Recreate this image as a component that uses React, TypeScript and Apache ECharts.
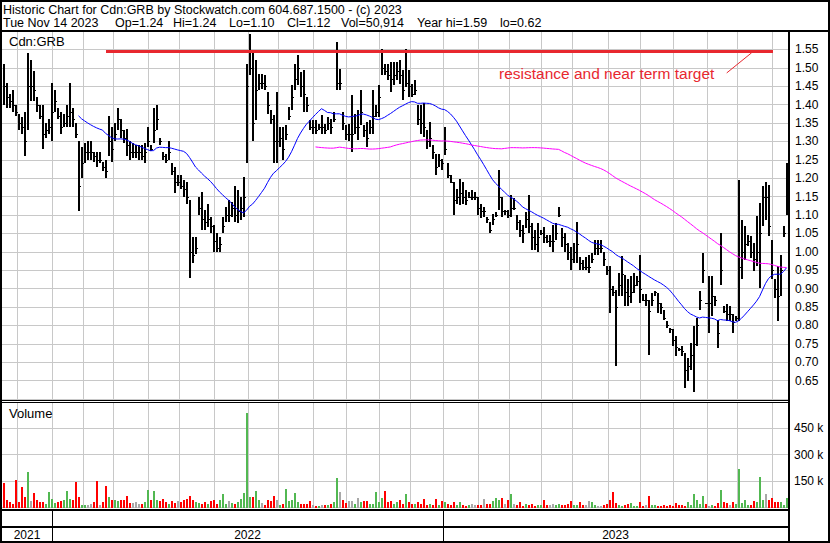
import React, { useEffect, useRef } from "react";
import * as echarts from "echarts";

// ---- data (each bar = ~2 trading days, Nov 2021 .. Nov 14 2023) ----
const highs = [
  1.51, 1.46, 1.43, 1.44, 1.40, 1.375, 1.365, 1.38, 1.54, 1.52,
  1.49, 1.42, 1.40, 1.40, 1.35, 1.36, 1.46, 1.44, 1.39, 1.38,
  1.375, 1.40, 1.46, 1.39, 1.35, 1.30, 1.285, 1.295, 1.30, 1.30,
  1.27, 1.27, 1.27, 1.245, 1.25, 1.37, 1.34, 1.35, 1.39, 1.36,
  1.33, 1.335, 1.30, 1.295, 1.29, 1.29, 1.29, 1.295, 1.34, 1.29,
  1.39, 1.40, 1.31, 1.27, 1.267, 1.30, 1.24, 1.23, 1.21, 1.21,
  1.195, 1.19, 1.14, 1.04, 1.04, 1.15, 1.163, 1.113, 1.13, 1.095,
  1.073, 1.05, 1.041, 1.095, 1.122, 1.14, 1.136, 1.18, 1.168, 1.15,
  1.204, 1.511, 1.592, 1.547, 1.52, 1.484, 1.484, 1.48, 1.434, 1.385,
  1.371, 1.434, 1.34, 1.34, 1.344, 1.393, 1.452, 1.511, 1.534, 1.488,
  1.493, 1.421, 1.357, 1.357, 1.357, 1.348, 1.371, 1.348, 1.366, 1.362,
  1.38, 1.57, 1.498, 1.38, 1.344, 1.348, 1.425, 1.375, 1.384, 1.439,
  1.344, 1.353, 1.357, 1.439, 1.398, 1.452, 1.552, 1.511, 1.511, 1.516,
  1.516, 1.516, 1.52, 1.493, 1.552, 1.493, 1.457, 1.466, 1.398, 1.398,
  1.403, 1.33, 1.353, 1.289, 1.267, 1.267, 1.253, 1.339, 1.24, 1.208,
  1.19, 1.172, 1.199, 1.19, 1.168, 1.163, 1.168, 1.163, 1.15, 1.131,
  1.122, 1.095, 1.082, 1.104, 1.109, 1.222, 1.15, 1.113, 1.113, 1.154,
  1.145, 1.10, 1.086, 1.073, 1.109, 1.154, 1.077, 1.059, 1.077, 1.059,
  1.068, 1.045, 1.045, 1.073, 1.077, 1.122, 1.064, 1.05, 1.023, 1.014,
  1.023, 1.082, 0.987, 0.978, 0.987, 0.991, 0.997, 1.033, 1.033, 1.033,
  1.00, 0.961, 0.961, 0.906, 0.897, 0.943, 0.988, 0.938, 0.925, 0.934,
  0.943, 0.934, 0.992, 0.884, 0.884, 0.87, 0.888, 0.893, 0.888, 0.861,
  0.843, 0.812, 0.793, 0.789, 0.771, 0.739, 0.744, 0.726, 0.712, 0.753,
  0.798, 0.82, 0.893, 0.997, 0.861, 0.934, 0.934, 0.879, 0.816, 1.051,
  0.852, 0.857, 0.852, 0.83, 0.825, 1.196, 1.087, 1.069, 1.047, 1.042,
  1.024, 1.096, 1.132, 1.178, 1.191, 1.182, 1.033, 0.925, 0.961, 0.99,
  1.07, 1.24,
];
const lows = [
  1.40, 1.39, 1.39, 1.38, 1.37, 1.33, 1.32, 1.26, 1.33, 1.41,
  1.41, 1.38, 1.36, 1.28, 1.31, 1.32, 1.30, 1.38, 1.36, 1.32,
  1.34, 1.34, 1.34, 1.34, 1.31, 1.11, 1.20, 1.24, 1.25, 1.25,
  1.245, 1.23, 1.24, 1.22, 1.20, 1.26, 1.245, 1.30, 1.33, 1.31,
  1.295, 1.26, 1.25, 1.255, 1.255, 1.25, 1.25, 1.24, 1.285, 1.275,
  1.295, 1.33, 1.29, 1.25, 1.24, 1.25, 1.21, 1.16, 1.18, 1.17,
  1.15, 1.13, 0.93, 0.97, 0.995, 1.10, 1.059, 1.059, 1.068, 1.05,
  1.00, 1.00, 1.00, 1.05, 1.082, 1.082, 1.095, 1.082, 1.077, 1.086,
  1.095, 1.24, 1.48, 1.30, 1.357, 1.439, 1.443, 1.439, 1.375, 1.348,
  1.24, 1.24, 1.285, 1.25, 1.303, 1.357, 1.384, 1.439, 1.452, 1.42,
  1.38, 1.38, 1.33, 1.32, 1.32, 1.33, 1.32, 1.32, 1.33, 1.32,
  1.353, 1.439, 1.439, 1.33, 1.303, 1.30, 1.27, 1.32, 1.303, 1.344,
  1.312, 1.285, 1.32, 1.32, 1.366, 1.366, 1.48, 1.48, 1.466, 1.434,
  1.452, 1.466, 1.457, 1.412, 1.448, 1.421, 1.421, 1.425, 1.344, 1.321,
  1.312, 1.28, 1.285, 1.253, 1.208, 1.231, 1.222, 1.262, 1.20, 1.186,
  1.10, 1.131, 1.127, 1.131, 1.127, 1.145, 1.14, 1.14, 1.10, 1.091,
  1.095, 1.077, 1.05, 1.073, 1.095, 1.113, 1.095, 1.10, 1.091, 1.095,
  1.113, 1.059, 1.041, 1.023, 1.064, 1.05, 1.005, 1.005, 1.00, 1.045,
  1.023, 1.023, 1.014, 1.00, 1.032, 1.095, 1.014, 1.00, 0.978, 0.951,
  0.969, 0.969, 0.951, 0.951, 0.951, 0.942, 0.97, 0.992, 0.992, 0.997,
  0.961, 0.938, 0.834, 0.879, 0.69, 0.879, 0.879, 0.852, 0.852, 0.861,
  0.888, 0.906, 0.861, 0.866, 0.852, 0.72, 0.852, 0.879, 0.834, 0.83,
  0.816, 0.793, 0.78, 0.744, 0.717, 0.73, 0.717, 0.631, 0.649, 0.68,
  0.62, 0.744, 0.843, 0.915, 0.857, 0.78, 0.825, 0.852, 0.739, 0.911,
  0.834, 0.812, 0.812, 0.78, 0.812, 0.812, 0.925, 0.979, 1.015, 0.983,
  0.947, 0.961, 0.902, 1.069, 1.087, 1.042, 0.925, 0.875, 0.812, 0.88,
  1.04, 1.10,
];
const closes = [
  1.45, 1.42, 1.41, 1.40, 1.38, 1.35, 1.34, 1.30, 1.45, 1.45,
  1.44, 1.40, 1.37, 1.32, 1.33, 1.34, 1.38, 1.41, 1.37, 1.34,
  1.35, 1.37, 1.38, 1.36, 1.32, 1.18, 1.24, 1.27, 1.27, 1.27,
  1.26, 1.25, 1.25, 1.23, 1.22, 1.30, 1.28, 1.32, 1.36, 1.33,
  1.31, 1.29, 1.27, 1.27, 1.27, 1.27, 1.26, 1.27, 1.30, 1.28,
  1.33, 1.36, 1.30, 1.26, 1.25, 1.27, 1.22, 1.19, 1.19, 1.18,
  1.17, 1.15, 1.00, 0.99, 1.01, 1.12, 1.09, 1.08, 1.09, 1.07,
  1.03, 1.01, 1.02, 1.07, 1.10, 1.10, 1.12, 1.10, 1.11, 1.12,
  1.15, 1.45, 1.50, 1.35, 1.44, 1.46, 1.46, 1.45, 1.40, 1.36,
  1.30, 1.30, 1.31, 1.28, 1.32, 1.37, 1.42, 1.47, 1.50, 1.45,
  1.43, 1.40, 1.34, 1.34, 1.33, 1.34, 1.34, 1.33, 1.35, 1.34,
  1.36, 1.46, 1.46, 1.35, 1.32, 1.32, 1.32, 1.34, 1.34, 1.38,
  1.33, 1.31, 1.34, 1.37, 1.38, 1.42, 1.50, 1.49, 1.48, 1.47,
  1.48, 1.49, 1.48, 1.44, 1.46, 1.45, 1.43, 1.44, 1.36, 1.35,
  1.34, 1.30, 1.31, 1.27, 1.23, 1.25, 1.24, 1.28, 1.21, 1.19,
  1.14, 1.15, 1.16, 1.15, 1.14, 1.15, 1.15, 1.15, 1.12, 1.11,
  1.11, 1.09, 1.06, 1.09, 1.10, 1.15, 1.11, 1.11, 1.10, 1.12,
  1.12, 1.08, 1.06, 1.05, 1.09, 1.07, 1.04, 1.02, 1.04, 1.05,
  1.04, 1.03, 1.03, 1.03, 1.05, 1.10, 1.04, 1.02, 1.00, 0.98,
  1.00, 1.02, 0.97, 0.96, 0.96, 0.96, 0.98, 1.01, 1.01, 1.01,
  0.98, 0.95, 0.90, 0.89, 0.85, 0.91, 0.94, 0.89, 0.88, 0.89,
  0.91, 0.92, 0.90, 0.87, 0.87, 0.84, 0.87, 0.89, 0.86, 0.85,
  0.82, 0.80, 0.79, 0.76, 0.74, 0.735, 0.73, 0.68, 0.69, 0.72,
  0.75, 0.80, 0.87, 0.95, 0.86, 0.86, 0.88, 0.87, 0.78, 0.95,
  0.84, 0.83, 0.83, 0.81, 0.82, 0.96, 1.00, 1.02, 1.03, 1.00,
  0.98, 1.00, 1.05, 1.15, 1.15, 1.07, 0.95, 0.90, 0.88, 0.95,
  1.05, 1.12,
];
// volume in thousands of shares
const volumesK = [
  138, 40, 30, 20, 155, 30, 115, 55, 200, 35,
  80, 40, 30, 30, 15, 85, 45, 25, 30, 35,
  40, 90, 45, 40, 145, 55, 10, 12, 12, 20,
  30, 150, 10, 30, 120, 55, 38, 40, 35, 38,
  38, 65, 25, 25, 28, 20, 15, 30, 100, 38,
  90, 40, 35, 48, 30, 20, 35, 25, 35, 30,
  40, 48, 65, 40, 30, 25, 20, 28, 20, 35,
  38, 20, 38, 73, 20, 35, 25, 20, 30, 48,
  80, 538, 55, 55, 90, 40, 25, 10, 40, 35,
  65, 38, 10, 20, 105, 35, 38, 80, 30, 20,
  20, 20, 35, 12, 8, 8, 12, 12, 12, 20,
  30, 163, 85, 38, 25, 35, 35, 20, 52, 30,
  35, 35, 20, 20, 85, 30, 53, 90, 30, 35,
  20, 30, 40, 20, 73, 30, 20, 20, 30, 20,
  48, 12, 20, 10, 48, 10, 35, 30, 15, 12,
  30, 10, 30, 10, 8, 10, 20, 10, 12, 12,
  48, 20, 20, 35, 53, 40, 53, 20, 40, 73,
  20, 10, 30, 8, 20, 10, 20, 8, 10, 10,
  40, 12, 12, 20, 12, 20, 10, 12, 20, 35,
  12, 10, 28, 10, 12, 35, 30, 10, 8, 8,
  10, 20, 38, 88, 25, 12, 8, 10, 20, 25,
  8, 8, 28, 8, 12, 65, 12, 12, 8, 8,
  10, 8, 12, 8, 25, 10, 12, 8, 28, 12,
  77, 38, 20, 65, 20, 8, 12, 8, 25, 100,
  30, 25, 12, 30, 20, 220, 25, 38, 12, 12,
  35, 30, 170, 38, 77, 40, 53, 30, 28, 28,
  12, 53,
];
// month starts, expressed in bar-index units
const monthStartIndex = [
  4.83, 16.17, 26.83, 36.83, 48.17, 58.83, 70.17, 81.5, 91.83, 103.17, 114.17, 125.17,
  135.83, 146.5, 158.17, 168.5, 179.17, 189.83, 201.5, 212.17, 223.17, 234.5, 244.83, 256.17,
];
const yearLabels = ["2021", "2022", "2023"];
const yearStartIndex = [-0.5, 16.17, 146.5];
const yearEndIndex = [16.17, 146.5, 261.5];

const fastWindow = 26; // ~50 trading days
const slowWindow = 105; // ~200 trading days

const resistancePrice = 1.546;
const resistanceStart = 34.17;
const resistanceEnd = 256.5;
const pointerStart = [241.07, 1.486];
const pointerEnd = [249.4, 1.541];

const titleText = "Historic Chart for Cdn:GRB by Stockwatch.com 604.687.1500 - (c) 2023";
const statTexts = ["Tue Nov 14 2023", "Op=1.24", "Hi=1.24", "Lo=1.10", "Cl=1.12", "Vol=50,914", "Year hi=1.59", "lo=0.62"];
const statX = [3, 115, 173, 229, 287, 341, 417, 500];

const FONT = "'Liberation Sans', Arial, Helvetica, sans-serif";
const GRID_COLOR = "#c8c8c8";
const RED = "#e8282f";

function sma(n: number) {
  const out: number[][] = [];
  let sum = 0;
  for (let i = 0; i < closes.length; i++) {
    sum += closes[i];
    if (i >= n) sum -= closes[i - n];
    if (i >= n - 1) out.push([i, +(sum / n).toFixed(4)]);
  }
  return out;
}

function txt(text: string, x: number, y: number, size = 12, color = "#000", align = "left") {
  return {
    type: "text",
    z: 60,
    silent: true,
    style: {
      text,
      x,
      y,
      fill: color,
      fontSize: size,
      fontFamily: FONT,
      align,
      textAlign: align,
      verticalAlign: "middle",
      textVerticalAlign: "middle",
    },
  };
}

function rect(x: number, y: number, w: number, h: number) {
  return { type: "rect", z: 60, silent: true, shape: { x, y, width: w, height: h }, style: { fill: "#000" } };
}

function buildOption() {
  const N = closes.length;
  const xMin = -0.5;
  const xMax = N - 0.5;
  const hlc = closes.map((c, i) => [i, highs[i], lows[i], c]);
  const vol = volumesK.map((v, i) => {
    let dir: number;
    if (i === 0) dir = closes[0] < (highs[0] + lows[0]) / 2 ? -1 : 1;
    else dir = closes[i] > closes[i - 1] ? 1 : closes[i] < closes[i - 1] ? -1 : 0;
    return [i, v * 1000, dir];
  });
  const years = yearLabels.map((_, k) => [yearStartIndex[k], yearEndIndex[k]]);

  const gridSeries = (axis: number, yBase: number) => ({
    type: "custom",
    xAxisIndex: axis,
    yAxisIndex: axis,
    silent: true,
    z: 1,
    encode: { x: 0, y: 1 },
    data: monthStartIndex.map((v) => [v, yBase]),
    renderItem: (params: any, api: any) => {
      const cs = params.coordSys;
      const x = Math.floor(api.coord([api.value(0), yBase])[0]) + 0.5;
      return {
        type: "line",
        shape: { x1: x, y1: cs.y, x2: x, y2: cs.y + cs.height },
        style: { stroke: GRID_COLOR, lineWidth: 1 },
      };
    },
  });

  return {
    animation: false,
    backgroundColor: "#ffffff",
    grid: [
      { left: 2, top: 31, width: 786, height: 368 },
      { left: 2, top: 402, width: 786, height: 105 },
    ],
    xAxis: [
      { type: "value", gridIndex: 0, min: xMin, max: xMax, show: false },
      { type: "value", gridIndex: 1, min: xMin, max: xMax, show: false },
    ],
    yAxis: [
      {
        type: "value",
        gridIndex: 0,
        position: "right",
        min: 0.6,
        max: 1.6,
        interval: 0.05,
        axisLine: { show: false },
        axisTick: { show: false },
        splitLine: { show: true, lineStyle: { color: GRID_COLOR, width: 1 } },
        axisLabel: {
          margin: 7,
          color: "#000",
          fontSize: 12,
          fontFamily: FONT,
          showMinLabel: false,
          showMaxLabel: false,
          formatter: (v: number) => (v < 0.62 || v > 1.58 ? "" : v.toFixed(2)),
        },
      },
      {
        type: "value",
        gridIndex: 1,
        position: "right",
        min: 0,
        max: 600000,
        interval: 150000,
        axisLine: { show: false },
        axisTick: { show: false },
        splitLine: { show: true, lineStyle: { color: GRID_COLOR, width: 1 } },
        axisLabel: {
          margin: 6,
          color: "#000",
          fontSize: 12,
          fontFamily: FONT,
          showMinLabel: false,
          showMaxLabel: false,
          formatter: (v: number) => (v <= 0 || v >= 600000 ? "" : `${v / 1000} k`),
        },
      },
    ],
    series: [
      gridSeries(0, 0.6),
      gridSeries(1, 0),
      {
        type: "custom",
        name: "price",
        xAxisIndex: 0,
        yAxisIndex: 0,
        z: 3,
        silent: true,
        encode: { x: 0, y: [1, 2] },
        data: hlc,
        renderItem: (params: any, api: any) => {
          const i = api.value(0);
          const hi = api.coord([i, api.value(1)]);
          const lo = api.coord([i, api.value(2)]);
          const cl = api.coord([i, api.value(3)]);
          const x = Math.floor(hi[0]);
          return {
            type: "group",
            children: [
              {
                type: "rect",
                shape: { x, y: Math.round(hi[1]), width: 2, height: Math.max(1, Math.round(lo[1]) - Math.round(hi[1])) },
                style: { fill: "#000" },
              },
              {
                type: "rect",
                shape: { x: x + 2, y: Math.round(cl[1]), width: 1, height: 1 },
                style: { fill: "#000" },
              },
            ],
          };
        },
      },
      {
        type: "line",
        name: "MA50",
        xAxisIndex: 0,
        yAxisIndex: 0,
        z: 4,
        silent: true,
        showSymbol: false,
        symbol: "none",
        data: sma(fastWindow),
        lineStyle: { color: "#0000ff", width: 1 },
        emphasis: { disabled: true },
        markLine: {
          silent: true,
          symbol: ["none", "none"],
          label: { show: false },
          emphasis: { disabled: true },
          data: [
            [
              { coord: [resistanceStart, resistancePrice], lineStyle: { color: RED, width: 3, type: "solid" } },
              { coord: [resistanceEnd, resistancePrice] },
            ],
            [
              { coord: pointerStart, lineStyle: { color: RED, width: 1, type: "solid" } },
              { coord: pointerEnd },
            ],
          ],
        },
      },
      {
        type: "line",
        name: "MA200",
        xAxisIndex: 0,
        yAxisIndex: 0,
        z: 4,
        silent: true,
        showSymbol: false,
        symbol: "none",
        data: sma(slowWindow),
        lineStyle: { color: "#ff00ff", width: 1 },
        emphasis: { disabled: true },
      },
      {
        type: "custom",
        name: "volume",
        xAxisIndex: 1,
        yAxisIndex: 1,
        z: 3,
        silent: true,
        encode: { x: 0, y: 1 },
        data: vol,
        renderItem: (params: any, api: any) => {
          const i = api.value(0);
          const top = api.coord([i, api.value(1)]);
          const base = api.coord([i, 0]);
          const d = api.value(2);
          const color = d > 0 ? "#52b852" : d < 0 ? "#ff0000" : "#a8a8a8";
          const x = Math.floor(top[0]);
          const y = Math.round(top[1]);
          return {
            type: "rect",
            shape: { x, y, width: 2, height: Math.max(1, Math.round(base[1]) + 1 - y) },
            style: { fill: color },
          };
        },
      },
      {
        type: "custom",
        name: "years",
        xAxisIndex: 1,
        yAxisIndex: 1,
        z: 5,
        silent: true,
        clip: false,
        encode: { x: [0, 1] },
        data: years,
        renderItem: (params: any, api: any) => {
          const k = params.dataIndex;
          const x0 = api.coord([api.value(0), 0])[0];
          const x1 = api.coord([api.value(1), 0])[0];
          const children: any[] = [
            {
              type: "text",
              style: {
                text: yearLabels[k],
                x: (x0 + x1) / 2,
                y: 535,
                fill: "#000",
                fontSize: 12,
                fontFamily: FONT,
                align: "center",
                textAlign: "center",
                verticalAlign: "middle",
                textVerticalAlign: "middle",
              },
            },
          ];
          if (k > 0) {
            children.push({
              type: "rect",
              shape: { x: Math.floor(x0), y: 510, width: 1, height: 31 },
              style: { fill: "#000" },
            });
          }
          return { type: "group", children };
        },
      },
    ],
    graphic: {
      elements: [
        { type: "rect", z: 60, silent: true, shape: { x: 1, y: 1, width: 828, height: 541 }, style: { fill: "none", stroke: "#000", lineWidth: 2 } },
        rect(0, 30, 830, 2),
        rect(2, 400, 786, 1),
        rect(2, 402, 786, 1),
        rect(2, 509, 786, 2),
        rect(2, 526, 786, 2),
        rect(788, 31, 2, 511),
        txt(titleText, 3, 9.6, 12.5),
        ...statTexts.map((t, k) => txt(t, statX[k], 23.2, 12.5)),
        txt("Cdn:GRB", 9, 41.5, 13),
        txt("Volume", 9, 413.5, 13),
        txt("resistance and near term target", 499, 73.6, 15.5, RED),
      ],
    },
  };
}

export default function App() {
  const ref = useRef<HTMLDivElement>(null);
  useEffect(() => {
    document.body.style.margin = "0";
    const chart = echarts.init(ref.current as HTMLDivElement, null, { renderer: "svg" });
    chart.setOption(buildOption() as any);
    return () => chart.dispose();
  }, []);
  return <div ref={ref} style={{ width: 830, height: 543, background: "#fff" }} />;
}
